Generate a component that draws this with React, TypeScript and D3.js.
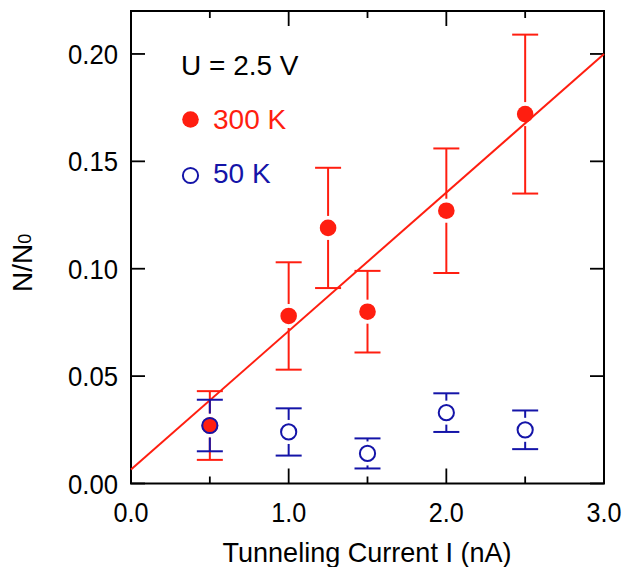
import React from "react";
import * as d3 from "d3";

const xTicksMajor = [0, 1, 2, 3];
const xTicksMinor = [0.5, 1.5, 2.5];
const xTickLabels = ["0.0", "1.0", "2.0", "3.0"];
const yTicks = [0, 0.05, 0.1, 0.15, 0.2];
const yTickLabels = ["0.00", "0.05", "0.10", "0.15", "0.20"];

const hotX = [0.5, 1.0, 1.25, 1.5, 2.0, 2.5];
const hotY = [0.027, 0.078, 0.119, 0.080, 0.127, 0.172];
const hotLo = [0.011, 0.053, 0.091, 0.061, 0.098, 0.135];
const hotHi = [0.043, 0.103, 0.147, 0.099, 0.156, 0.209];

const coldX = [0.5, 1.0, 1.5, 2.0, 2.5];
const coldY = [0.027, 0.024, 0.014, 0.033, 0.025];
const coldLo = [0.015, 0.013, 0.007, 0.024, 0.016];
const coldHi = [0.039, 0.035, 0.021, 0.042, 0.034];

const fitX = [0, 3.0];
const fitY = [0.0065, 0.2];

const xTitle = "Tunneling Current I (nA)";
const legendTitle = "U = 2.5 V";
const hotLabel = "300 K";
const coldLabel = "50 K";

const RED = "#ff1e10";
const BLUE = "#1414a8";
const FONT = "'Liberation Sans', Arial, Helvetica, sans-serif";

export default function App() {
  const W = 623, H = 567;
  const L = 131, R = 604, T = 11, B = 483.5;
  const x = d3.scaleLinear().domain([0, 3]).range([L, R]);
  const y = d3.scaleLinear().domain([0, 0.22]).range([B, T]);
  const line = d3.line<number>().x((_, i) => x(fitX[i])).y((_, i) => y(fitY[i]));
  const gap = 12;
  const cap = 13;

  const errBars = (xs: number[], ys: number[], lo: number[], hi: number[], color: string) =>
    xs.map((xv, i) => {
      const cx = x(xv), cy = y(ys[i]);
      const yl = y(lo[i]), yh = y(hi[i]);
      return (
        <g key={i} stroke={color} strokeWidth={2}>
          <line x1={cx} x2={cx} y1={yh} y2={Math.min(cy - gap, yl)} />
          <line x1={cx} x2={cx} y1={Math.max(cy + gap, yh)} y2={yl} />
          <line x1={cx - cap} x2={cx + cap} y1={yh} y2={yh} />
          <line x1={cx - cap} x2={cx + cap} y1={yl} y2={yl} />
        </g>
      );
    });

  return (
    <svg width={W} height={H} style={{ position: "absolute", left: 0, top: 0, background: "#fff" }} fontFamily={FONT}>
      {/* ticks */}
      <g stroke="#000" strokeWidth={1.8}>
        {yTicks.map((t, i) => (
          <g key={"y" + i}>
            <line x1={L} x2={L + 14} y1={y(t)} y2={y(t)} />
            <line x1={R - 14} x2={R} y1={y(t)} y2={y(t)} />
          </g>
        ))}
        {xTicksMajor.map((t, i) => (
          <g key={"xm" + i}>
            <line x1={x(t)} x2={x(t)} y1={B} y2={B - 15} />
            <line x1={x(t)} x2={x(t)} y1={T} y2={T + 15} />
          </g>
        ))}
        {xTicksMinor.map((t, i) => (
          <g key={"xn" + i}>
            <line x1={x(t)} x2={x(t)} y1={B} y2={B - 7} />
            <line x1={x(t)} x2={x(t)} y1={T} y2={T + 7} />
          </g>
        ))}
      </g>
      <rect x={L} y={T} width={R - L} height={B - T} fill="none" stroke="#000" strokeWidth={2} />

      {/* tick labels */}
      {yTicks.map((t, i) => (
        <text key={"yl" + i} x={118} y={y(t) + 10} fontSize={28} textAnchor="end" textLength={50} lengthAdjust="spacingAndGlyphs">
          {yTickLabels[i]}
        </text>
      ))}
      {xTicksMajor.map((t, i) => (
        <text key={"xl" + i} x={x(t)} y={522} fontSize={28} textAnchor="middle" textLength={35} lengthAdjust="spacingAndGlyphs">
          {xTickLabels[i]}
        </text>
      ))}

      {/* axis titles */}
      <text x={367} y={562} fontSize={28} textAnchor="middle" textLength={289} lengthAdjust="spacingAndGlyphs">
        {xTitle}
      </text>
      <text transform="translate(32,292) rotate(-90)" fontSize={28}>
        N/N<tspan fontSize={18} dy={-1}>0</tspan>
      </text>

      {/* fit line */}
      <path d={line(fitX) || ""} fill="none" stroke={RED} strokeWidth={2} />

      {/* 300 K */}
      {errBars(hotX, hotY, hotLo, hotHi, RED)}
      {hotX.map((xv, i) => (
        <circle key={"h" + i} cx={x(xv)} cy={y(hotY[i])} r={8.3} fill={RED} />
      ))}

      {/* 50 K */}
      {errBars(coldX, coldY, coldLo, coldHi, BLUE)}
      {coldX.map((xv, i) => (
        <circle key={"c" + i} cx={x(xv)} cy={y(coldY[i])} r={7.6} fill="none" stroke={BLUE} strokeWidth={2} />
      ))}

      {/* legend */}
      <text x={181} y={75} fontSize={28} fill="#000">{legendTitle}</text>
      <circle cx={190.5} cy={119.5} r={8.3} fill={RED} />
      <text x={213} y={129} fontSize={28} fill={RED}>{hotLabel}</text>
      <circle cx={190.5} cy={175.5} r={7.6} fill="none" stroke={BLUE} strokeWidth={2} />
      <text x={213} y={183} fontSize={28} fill={BLUE}>{coldLabel}</text>
    </svg>
  );
}
